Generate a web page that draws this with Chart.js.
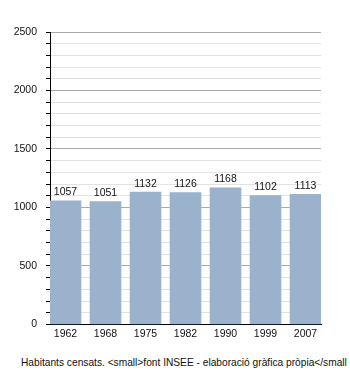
<!DOCTYPE html>
<html>
<head>
<meta charset="utf-8">
<script src="https://cdn.jsdelivr.net/npm/chart.js@4/dist/chart.umd.min.js"></script>
<style>
  html, body { margin: 0; padding: 0; background: #fff; }
  #wrap { position: relative; width: 350px; height: 373px; overflow: hidden; }
  #box { position: absolute; left: 0; top: 0; width: 350px; height: 343px; }
  #caption {
    position: absolute; left: 21px; top: 357px;
    font: 10.2px "Liberation Sans", Arial, sans-serif; color: #111;
    white-space: nowrap;
  }
</style>
</head>
<body>
<div id="wrap">
  <div id="box"><canvas id="chart"></canvas></div>
  <div id="caption">Habitants censats. &lt;small&gt;font INSEE - elaboració gràfica pròpia&lt;/small</div>
</div>
<script>
'use strict';

const years = ['1962', '1968', '1975', '1982', '1990', '1999', '2007'];
const population = [1057, 1051, 1132, 1126, 1168, 1102, 1113];
const yMax = 2500;
const yStep = 100;
const labelStep = 500;

const FONT = '"Liberation Sans", Arial, sans-serif';

// writes the value just above each bar
const valueLabels = {
  id: 'valueLabels',
  afterDatasetsDraw: function (chart) {
    const ctx = chart.ctx;
    const meta = chart.getDatasetMeta(0);
    ctx.save();
    ctx.font = '10.5px ' + FONT;
    ctx.fillStyle = '#111';
    ctx.textAlign = 'center';
    ctx.textBaseline = 'bottom';
    meta.data.forEach(function (bar, i) {
      ctx.fillText(String(population[i]), bar.x, bar.y - 3);
    });
    ctx.restore();
  }
};

new Chart(document.getElementById('chart'), {
  type: 'bar',
  data: {
    datasets: [{
      data: population.map(function (v, i) { return { x: i, y: v }; }),
      backgroundColor: '#9ab2cb',
      borderWidth: 0,
      barThickness: 31
    }]
  },
  options: {
    responsive: true,
    maintainAspectRatio: false,
    animation: false,
    layout: { padding: { top: 32, right: 29, left: 0, bottom: 0 } },
    plugins: { legend: { display: false }, tooltip: { enabled: false } },
    scales: {
      x: {
        type: 'linear',
        offset: false,
        min: -0.3875,
        max: 6.3875,
        afterBuildTicks: function (scale) {
          scale.ticks = years.map(function (y, i) { return { value: i }; });
        },
        ticks: {
          autoSkip: false,
          maxRotation: 0,
          padding: 3,
          color: '#111',
          font: { family: FONT, size: 10.5 },
          callback: function (value) { return years[value]; }
        },
        grid: { drawOnChartArea: false, drawTicks: false },
        border: { display: true, color: '#000', width: 1 }
      },
      y: {
        min: 0,
        max: yMax,
        afterFit: function (scale) { scale.width = 50; },
        ticks: {
          stepSize: yStep,
          autoSkip: false,
          padding: 9,
          color: '#111',
          font: { family: FONT, size: 10.5 },
          callback: function (value) { return value % labelStep === 0 ? value : ''; }
        },
        grid: {
          color: function (c) {
            return c.tick && c.tick.value % labelStep === 0 ? '#aaaaaa' : '#e2e2e2';
          },
          tickColor: '#000',
          tickLength: 4
        },
        border: { display: true, color: '#000', width: 1 }
      }
    }
  },
  plugins: [valueLabels]
});
</script>
</body>
</html>
